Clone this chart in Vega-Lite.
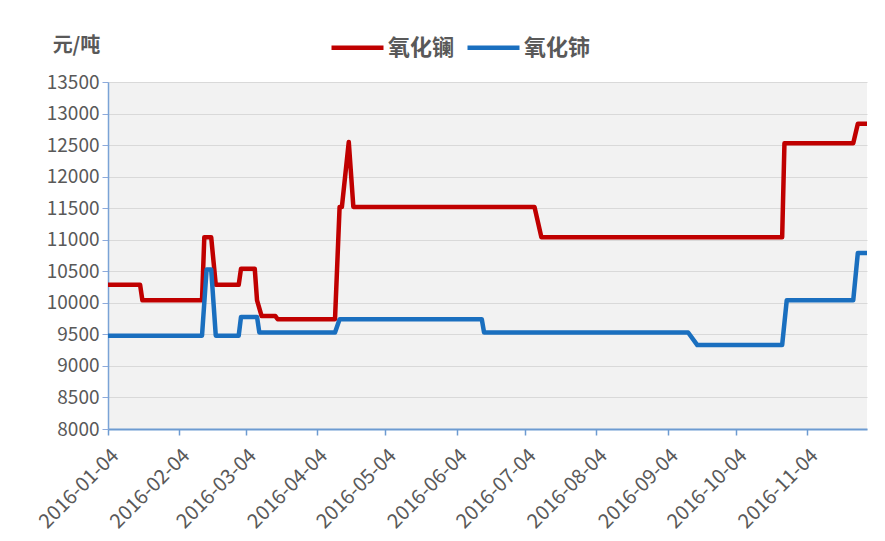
{
  "$schema": "https://vega.github.io/schema/vega-lite/v6.json",
  "width": 759,
  "height": 347,
  "autosize": {"type": "none"},
  "padding": {"left": 108, "top": 82, "right": 18, "bottom": 112},
  "background": "white",
  "config": {
    "view": {"fill": "#f2f2f2", "stroke": null},
    "font": "Noto Sans CJK SC"
  },
  "data": {
    "values": [
      {"date": "2016/01/04", "series": "氧化镧", "price": 10285},
      {"date": "2016/01/18", "series": "氧化镧", "price": 10285},
      {"date": "2016/01/19", "series": "氧化镧", "price": 10040},
      {"date": "2016/02/14", "series": "氧化镧", "price": 10040},
      {"date": "2016/02/15", "series": "氧化镧", "price": 11040},
      {"date": "2016/02/18", "series": "氧化镧", "price": 11040},
      {"date": "2016/02/20", "series": "氧化镧", "price": 10285},
      {"date": "2016/03/01", "series": "氧化镧", "price": 10285},
      {"date": "2016/03/02", "series": "氧化镧", "price": 10540},
      {"date": "2016/03/08", "series": "氧化镧", "price": 10540},
      {"date": "2016/03/09", "series": "氧化镧", "price": 10040},
      {"date": "2016/03/11", "series": "氧化镧", "price": 9790},
      {"date": "2016/03/17", "series": "氧化镧", "price": 9790},
      {"date": "2016/03/18", "series": "氧化镧", "price": 9740},
      {"date": "2016/04/12", "series": "氧化镧", "price": 9740},
      {"date": "2016/04/14", "series": "氧化镧", "price": 11520},
      {"date": "2016/04/15", "series": "氧化镧", "price": 11520},
      {"date": "2016/04/18", "series": "氧化镧", "price": 12550},
      {"date": "2016/04/20", "series": "氧化镧", "price": 11520},
      {"date": "2016/07/08", "series": "氧化镧", "price": 11520},
      {"date": "2016/07/11", "series": "氧化镧", "price": 11040},
      {"date": "2016/10/24", "series": "氧化镧", "price": 11040},
      {"date": "2016/10/25", "series": "氧化镧", "price": 12530},
      {"date": "2016/11/24", "series": "氧化镧", "price": 12530},
      {"date": "2016/11/26", "series": "氧化镧", "price": 12840},
      {"date": "2016/11/30", "series": "氧化镧", "price": 12840},
      {"date": "2016/01/04", "series": "氧化铈", "price": 9480},
      {"date": "2016/02/14", "series": "氧化铈", "price": 9480},
      {"date": "2016/02/16", "series": "氧化铈", "price": 10530},
      {"date": "2016/02/18", "series": "氧化铈", "price": 10530},
      {"date": "2016/02/20", "series": "氧化铈", "price": 9480},
      {"date": "2016/03/01", "series": "氧化铈", "price": 9480},
      {"date": "2016/03/02", "series": "氧化铈", "price": 9775},
      {"date": "2016/03/09", "series": "氧化铈", "price": 9775},
      {"date": "2016/03/10", "series": "氧化铈", "price": 9530},
      {"date": "2016/04/12", "series": "氧化铈", "price": 9530},
      {"date": "2016/04/14", "series": "氧化铈", "price": 9740},
      {"date": "2016/06/15", "series": "氧化铈", "price": 9740},
      {"date": "2016/06/16", "series": "氧化铈", "price": 9530},
      {"date": "2016/09/13", "series": "氧化铈", "price": 9530},
      {"date": "2016/09/17", "series": "氧化铈", "price": 9330},
      {"date": "2016/10/24", "series": "氧化铈", "price": 9330},
      {"date": "2016/10/26", "series": "氧化铈", "price": 10040},
      {"date": "2016/11/24", "series": "氧化铈", "price": 10040},
      {"date": "2016/11/26", "series": "氧化铈", "price": 10790},
      {"date": "2016/11/30", "series": "氧化铈", "price": 10790}
    ]
  },
  "mark": {"type": "line", "strokeWidth": 4.5, "strokeJoin": "round"},
  "encoding": {
    "x": {
      "field": "date",
      "type": "temporal",
      "scale": {"domain": [{"year": 2016, "month": 1, "date": 4}, {"year": 2016, "month": 11, "date": 30}]},
      "axis": {
        "title": null,
        "grid": false,
        "format": "%Y-%m-%d",
        "values": [
          {"year": 2016, "month": 1, "date": 4},
          {"year": 2016, "month": 2, "date": 4},
          {"year": 2016, "month": 3, "date": 4},
          {"year": 2016, "month": 4, "date": 4},
          {"year": 2016, "month": 5, "date": 4},
          {"year": 2016, "month": 6, "date": 4},
          {"year": 2016, "month": 7, "date": 4},
          {"year": 2016, "month": 8, "date": 4},
          {"year": 2016, "month": 9, "date": 4},
          {"year": 2016, "month": 10, "date": 4},
          {"year": 2016, "month": 11, "date": 4}
        ],
        "labelAngle": -45,
        "labelAlign": "right",
        "labelBaseline": "top",
        "labelPadding": 10,
        "labelFontSize": 20,
        "labelColor": "#595959",
        "labelOverlap": false,
        "labelFlush": false,
        "domainColor": "#6d9bd1",
        "domainWidth": 2,
        "tickColor": "#6d9bd1",
        "tickSize": 6,
        "tickWidth": 1.5
      }
    },
    "y": {
      "field": "price",
      "type": "quantitative",
      "scale": {"domain": [8000, 13500], "nice": false, "zero": false},
      "axis": {
        "values": [8000, 8500, 9000, 9500, 10000, 10500, 11000, 11500, 12000, 12500, 13000, 13500],
        "format": "d",
        "title": "元/吨",
        "titleAngle": 0,
        "titleX": -32,
        "titleY": -37,
        "titleAlign": "center",
        "titleBaseline": "middle",
        "titleFontSize": 20,
        "titleFontWeight": "bold",
        "titleColor": "#595959",
        "labelFontSize": 19,
        "labelColor": "#595959",
        "labelPadding": 3,
        "domainColor": "#7aa3d6",
        "domainWidth": 1.5,
        "tickColor": "#8eaadb",
        "tickSize": 6,
        "gridColor": "#d9d9d9",
        "gridWidth": 1
      }
    },
    "color": {
      "field": "series",
      "type": "nominal",
      "scale": {"domain": ["氧化镧", "氧化铈"], "range": ["#c00000", "#1a6fbf"]},
      "legend": {
        "title": null,
        "orient": "none",
        "direction": "horizontal",
        "legendX": 221,
        "legendY": -63,
        "symbolType": "stroke",
        "symbolSize": 2704,
        "symbolStrokeWidth": 4.5,
        "labelFontSize": 22,
        "labelFontWeight": "bold",
        "labelColor": "#595959",
        "labelOffset": 2,
        "columnPadding": 3,
        "padding": 0
      }
    }
  }
}
